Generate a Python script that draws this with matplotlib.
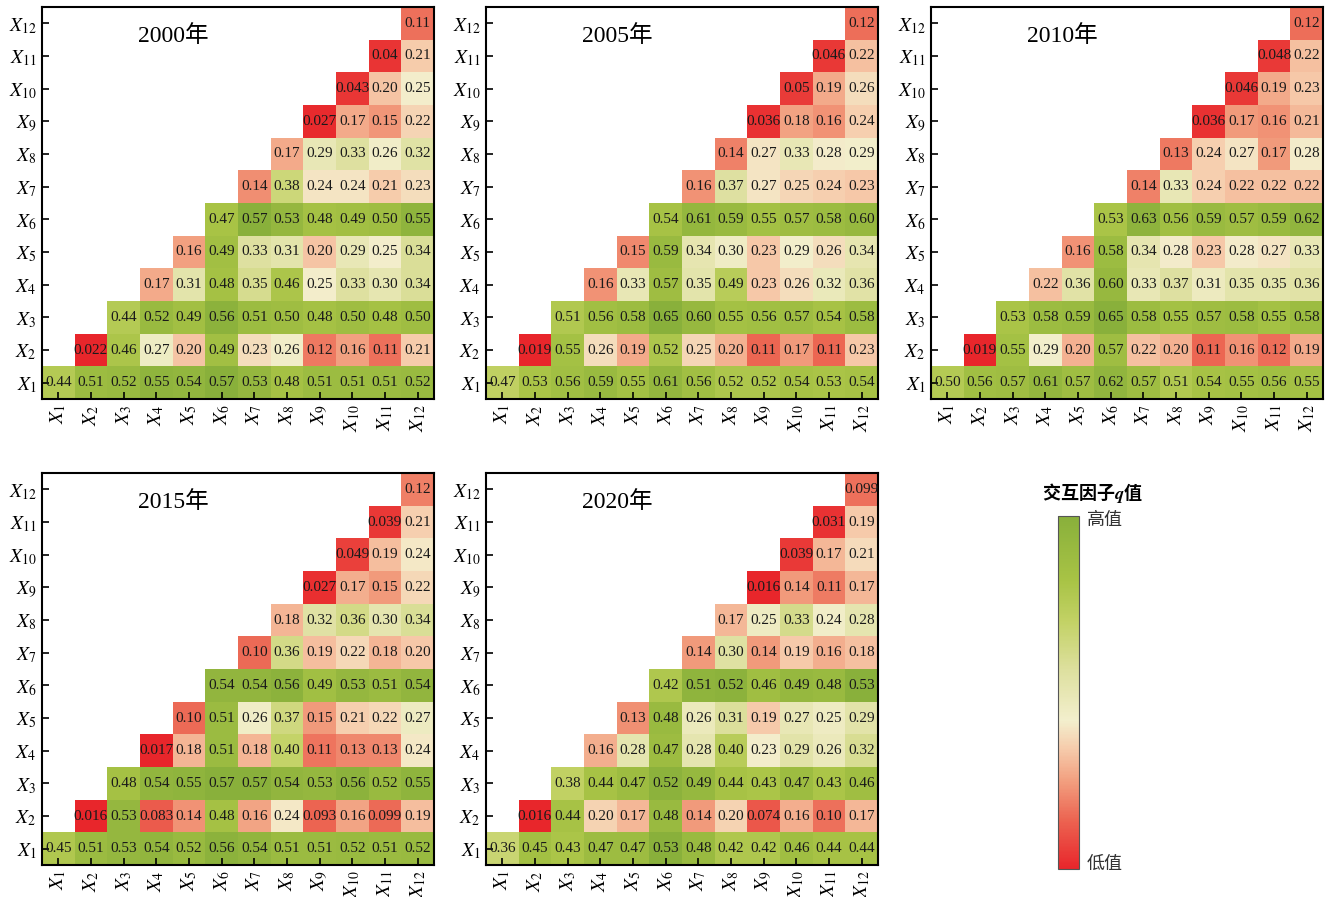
import matplotlib
matplotlib.use("Agg")
import matplotlib.pyplot as plt
import numpy as np
from matplotlib.colors import LinearSegmentedColormap, Normalize
import matplotlib.cm as cm

plt.rcParams['mathtext.fontset'] = 'stix'
plt.rcParams['font.family'] = ['Liberation Serif', 'Noto Sans CJK SC', 'DejaVu Sans']

factors = [r'$X_{%d}$' % i for i in range(1, 13)]
years = ['2000年', '2005年', '2010年', '2015年', '2020年']

# each row i lists the interaction q values for columns X_i .. X_12
q2000 = [
    [0.44, 0.51, 0.52, 0.55, 0.54, 0.57, 0.53, 0.48, 0.51, 0.51, 0.51, 0.52],
    [0.022, 0.46, 0.27, 0.20, 0.49, 0.23, 0.26, 0.12, 0.16, 0.11, 0.21],
    [0.44, 0.52, 0.49, 0.56, 0.51, 0.50, 0.48, 0.50, 0.48, 0.50],
    [0.17, 0.31, 0.48, 0.35, 0.46, 0.25, 0.33, 0.30, 0.34],
    [0.16, 0.49, 0.33, 0.31, 0.20, 0.29, 0.25, 0.34],
    [0.47, 0.57, 0.53, 0.48, 0.49, 0.50, 0.55],
    [0.14, 0.38, 0.24, 0.24, 0.21, 0.23],
    [0.17, 0.29, 0.33, 0.26, 0.32],
    [0.027, 0.17, 0.15, 0.22],
    [0.043, 0.20, 0.25],
    [0.04, 0.21],
    [0.11],
]
q2005 = [
    [0.47, 0.53, 0.56, 0.59, 0.55, 0.61, 0.56, 0.52, 0.52, 0.54, 0.53, 0.54],
    [0.019, 0.55, 0.26, 0.19, 0.52, 0.25, 0.20, 0.11, 0.17, 0.11, 0.23],
    [0.51, 0.56, 0.58, 0.65, 0.60, 0.55, 0.56, 0.57, 0.54, 0.58],
    [0.16, 0.33, 0.57, 0.35, 0.49, 0.23, 0.26, 0.32, 0.36],
    [0.15, 0.59, 0.34, 0.30, 0.23, 0.29, 0.26, 0.34],
    [0.54, 0.61, 0.59, 0.55, 0.57, 0.58, 0.60],
    [0.16, 0.37, 0.27, 0.25, 0.24, 0.23],
    [0.14, 0.27, 0.33, 0.28, 0.29],
    [0.036, 0.18, 0.16, 0.24],
    [0.05, 0.19, 0.26],
    [0.046, 0.22],
    [0.12],
]
q2010 = [
    [0.50, 0.56, 0.57, 0.61, 0.57, 0.62, 0.57, 0.51, 0.54, 0.55, 0.56, 0.55],
    [0.019, 0.55, 0.29, 0.20, 0.57, 0.22, 0.20, 0.11, 0.16, 0.12, 0.19],
    [0.53, 0.58, 0.59, 0.65, 0.58, 0.55, 0.57, 0.58, 0.55, 0.58],
    [0.22, 0.36, 0.60, 0.33, 0.37, 0.31, 0.35, 0.35, 0.36],
    [0.16, 0.58, 0.34, 0.28, 0.23, 0.28, 0.27, 0.33],
    [0.53, 0.63, 0.56, 0.59, 0.57, 0.59, 0.62],
    [0.14, 0.33, 0.24, 0.22, 0.22, 0.22],
    [0.13, 0.24, 0.27, 0.17, 0.28],
    [0.036, 0.17, 0.16, 0.21],
    [0.046, 0.19, 0.23],
    [0.048, 0.22],
    [0.12],
]
q2015 = [
    [0.45, 0.51, 0.53, 0.54, 0.52, 0.56, 0.54, 0.51, 0.51, 0.52, 0.51, 0.52],
    [0.016, 0.53, 0.083, 0.14, 0.48, 0.16, 0.24, 0.093, 0.16, 0.099, 0.19],
    [0.48, 0.54, 0.55, 0.57, 0.57, 0.54, 0.53, 0.56, 0.52, 0.55],
    [0.017, 0.18, 0.51, 0.18, 0.40, 0.11, 0.13, 0.13, 0.24],
    [0.10, 0.51, 0.26, 0.37, 0.15, 0.21, 0.22, 0.27],
    [0.54, 0.54, 0.56, 0.49, 0.53, 0.51, 0.54],
    [0.10, 0.36, 0.19, 0.22, 0.18, 0.20],
    [0.18, 0.32, 0.36, 0.30, 0.34],
    [0.027, 0.17, 0.15, 0.22],
    [0.049, 0.19, 0.24],
    [0.039, 0.21],
    [0.12],
]
q2020 = [
    [0.36, 0.45, 0.43, 0.47, 0.47, 0.53, 0.48, 0.42, 0.42, 0.46, 0.44, 0.44],
    [0.016, 0.44, 0.20, 0.17, 0.48, 0.14, 0.20, 0.074, 0.16, 0.10, 0.17],
    [0.38, 0.44, 0.47, 0.52, 0.49, 0.44, 0.43, 0.47, 0.43, 0.46],
    [0.16, 0.28, 0.47, 0.28, 0.40, 0.23, 0.29, 0.26, 0.32],
    [0.13, 0.48, 0.26, 0.31, 0.19, 0.27, 0.25, 0.29],
    [0.42, 0.51, 0.52, 0.46, 0.49, 0.48, 0.53],
    [0.14, 0.30, 0.14, 0.19, 0.16, 0.18],
    [0.17, 0.25, 0.33, 0.24, 0.28],
    [0.016, 0.14, 0.11, 0.17],
    [0.039, 0.17, 0.21],
    [0.031, 0.19],
    [0.099],
]
all_q = [q2000, q2005, q2010, q2015, q2020]

cmap = LinearSegmentedColormap.from_list('qmap', [
    (0.00, '#E8262B'),
    (0.14, '#EC6552'),
    (0.25, '#F2A080'),
    (0.34, '#F6CBAB'),
    (0.42, '#F3EFCD'),
    (0.56, '#DEE0A0'),
    (0.70, '#C3D266'),
    (0.82, '#A8C345'),
    (1.00, '#89B03B'),
])

def fmt(v):
    return ('%.2g' % v) if v < 0.1 else ('%.2f' % v)

W, H = 1328, 897
fig = plt.figure(figsize=(W / 100, H / 100), dpi=100)

lefts = [42, 486, 931, 42, 486]
tops = [7, 7, 7, 473, 473]
size = 392
n = 12

for k in range(5):
    ax = fig.add_axes([lefts[k] / W, 1 - (tops[k] + size) / H, size / W, size / H])
    rows = all_q[k]
    M = np.full((n, n), np.nan)
    for i, row in enumerate(rows):
        for j, v in enumerate(row):
            M[i, i + j] = v
    vmin, vmax = np.nanmin(M), np.nanmax(M)
    Mm = np.ma.masked_invalid(M)
    edges = np.arange(n + 1) + 0.5
    ax.pcolormesh(edges, edges, Mm, cmap=cmap, vmin=vmin, vmax=vmax)
    for i, row in enumerate(rows):
        for j, v in enumerate(row):
            ax.text(i + j + 1, i + 1, fmt(v), ha='center', va='center',
                    fontsize=11, color='#1a1a1a', family='Liberation Serif')
    ax.set_xlim(0.5, n + 0.5)
    ax.set_ylim(0.5, n + 0.5)
    ax.set_xticks(np.arange(1, n + 1))
    ax.set_yticks(np.arange(1, n + 1))
    ax.set_xticklabels(factors, rotation=90, fontsize=14)
    ax.set_yticklabels(factors, fontsize=14)
    ax.tick_params(direction='in', length=5, width=1.2, pad=4)
    for s in ax.spines.values():
        s.set_linewidth(1.5)
    ax.text(0.335, 0.925, years[k], transform=ax.transAxes, ha='center', va='center',
            fontsize=17, family=['Liberation Serif', 'Noto Sans CJK SC'])

# colorbar
cax = fig.add_axes([1058 / W, 1 - 869 / H, 21 / W, 353 / H])
cb = fig.colorbar(cm.ScalarMappable(norm=Normalize(0, 1), cmap=cmap), cax=cax)
cb.set_ticks([])
cb.outline.set_linewidth(0.8)
cb.outline.set_edgecolor('#555555')
fig.text(1092 / W, 1 - 493 / H, r'交互因子$\boldsymbol{q}$值', ha='center', va='center',
         fontsize=13, fontweight='bold', family=['Noto Sans CJK SC', 'DejaVu Sans'])
fig.text(1087 / W, 1 - 520 / H, '高值', ha='left', va='center', fontsize=13,
         family=['Noto Sans CJK SC', 'DejaVu Sans'], color='#333333')
fig.text(1087 / W, 1 - 864 / H, '低值', ha='left', va='center', fontsize=13,
         family=['Noto Sans CJK SC', 'DejaVu Sans'], color='#333333')

fig.savefig('out.png', dpi=100)
